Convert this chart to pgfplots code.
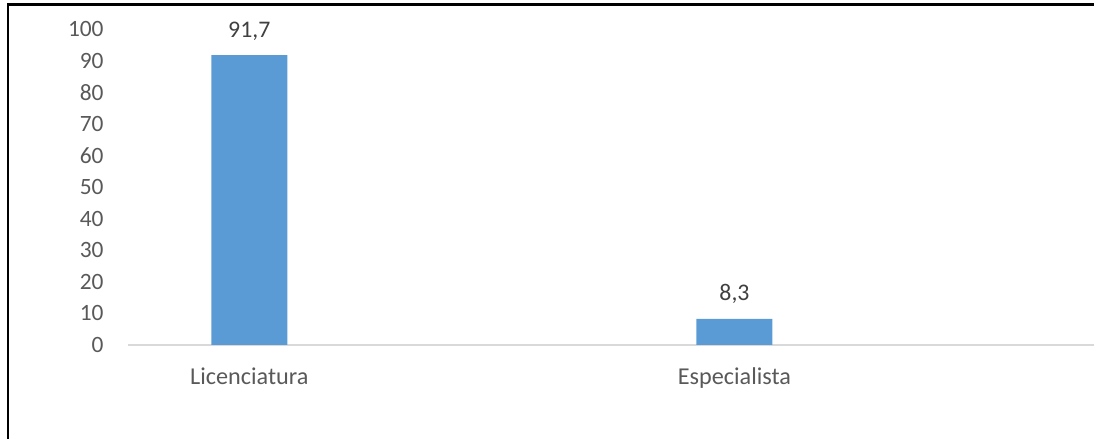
\documentclass[border=0pt]{standalone}
\usepackage{fontspec}
\setmainfont{Carlito}
\usepackage{pgfplots}
\pgfplotsset{compat=1.18}
\definecolor{barblue}{HTML}{5B9BD5}
\definecolor{ticktext}{HTML}{595959}
\definecolor{labeltext}{HTML}{404040}
\definecolor{basegray}{HTML}{D9D9D9}
\begin{document}
\begin{tikzpicture}
\path[use as bounding box] (0bp,0bp) rectangle (547bp,219.5bp);
\draw[black, line width=1.2bp] (4bp,0bp) -- (4bp,217.3bp) -- (547bp,217.3bp);
\begin{axis}[
  at={(64bp,47bp)}, anchor=south west,
  scale only axis, width=483bp, height=158bp,
  xmin=-0.5, xmax=3.482, ymin=0, ymax=100,
  axis line style={draw=none}, tick style={draw=none}, major tick length=0pt,
  xtick={0,2}, xticklabels={Licenciatura,Especialista},
  ytick={0,10,...,100},
  /pgf/number format/assume math mode=true,
  font=\fontsize{11.7bp}{14bp}\selectfont,
  tick label style={text=ticktext, font=\fontsize{11.7bp}{14bp}\selectfont},
  yticklabel style={anchor=east, inner sep=0pt, xshift=-12bp},
  xticklabel style={anchor=base, inner sep=0pt, yshift=-20bp, font=\fontsize{12.1bp}{14bp}\selectfont},
  ybar, bar width=38bp,
  nodes near coords={\pgfmathprintnumber[use comma,fixed,precision=1,fixed zerofill]{\pgfplotspointmeta}},
  nodes near coords style={text=labeltext, anchor=base, inner sep=0pt, yshift=8.9bp, font=\fontsize{11.9bp}{14bp}\selectfont},
  clip=false
]
\draw[basegray, line width=0.8bp] (axis cs:-0.5,0) -- (axis cs:3.482,0);
\addplot[fill=barblue, draw=none] coordinates {(0,91.7) (2,8.3)};
\end{axis}
\end{tikzpicture}
\end{document}
